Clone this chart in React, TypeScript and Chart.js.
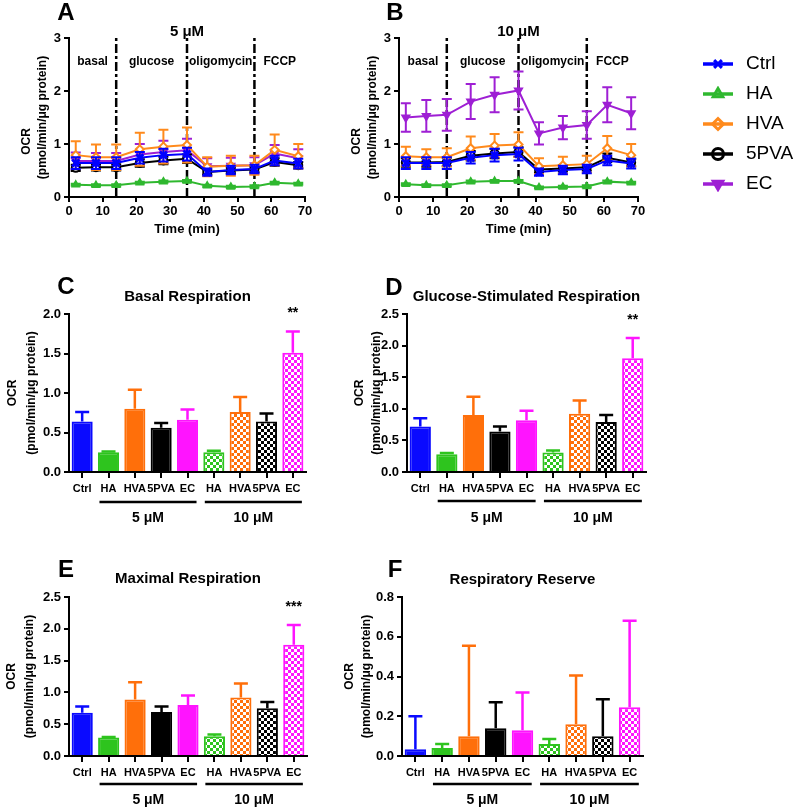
import React, { useEffect, useRef } from 'react';
import { Chart, registerables } from 'chart.js';
import { drawPoint } from 'chart.js/helpers';

Chart.register(...registerables);

const FONT = "'Liberation Sans', Arial, Helvetica, sans-serif";

// ---------- Time course data (panels A and B) ----------
const timePoints = [2, 8, 14, 21, 28, 35, 41, 48, 55, 61, 68];
const phaseBounds = [14, 35, 55];
const phaseNames = ['basal', 'glucose', 'oligomycin', 'FCCP'];
const seriesNames = ['Ctrl', 'HA', 'HVA', '5PVA', 'EC'];

const ctrlOCR = [0.64, 0.64, 0.64, 0.74, 0.79, 0.81, 0.47, 0.51, 0.53, 0.69, 0.63];
const ctrlErr = [0.11, 0.11, 0.11, 0.11, 0.12, 0.12, 0.07, 0.08, 0.08, 0.09, 0.09];

const ha5OCR = [0.23, 0.22, 0.22, 0.27, 0.29, 0.30, 0.21, 0.19, 0.20, 0.27, 0.25];
const ha5Err = [0.02, 0.02, 0.02, 0.02, 0.02, 0.02, 0.02, 0.02, 0.02, 0.02, 0.02];
const hva5OCR = [0.79, 0.75, 0.75, 0.90, 0.95, 0.98, 0.57, 0.59, 0.60, 0.89, 0.77];
const hva5Err = [0.26, 0.24, 0.24, 0.31, 0.32, 0.33, 0.18, 0.19, 0.18, 0.29, 0.23];
const pva5OCR = [0.55, 0.56, 0.56, 0.64, 0.69, 0.72, 0.47, 0.50, 0.52, 0.66, 0.60];
const pva5Err = [0.06, 0.06, 0.06, 0.07, 0.07, 0.08, 0.05, 0.05, 0.05, 0.07, 0.06];
const ec5OCR = [0.68, 0.68, 0.68, 0.80, 0.85, 0.88, 0.58, 0.59, 0.60, 0.82, 0.73];
const ec5Err = [0.16, 0.15, 0.15, 0.20, 0.21, 0.22, 0.15, 0.15, 0.15, 0.16, 0.17];

const ha10OCR = [0.24, 0.22, 0.22, 0.29, 0.30, 0.30, 0.18, 0.19, 0.20, 0.29, 0.27];
const ha10Err = [0.02, 0.02, 0.02, 0.02, 0.02, 0.02, 0.02, 0.02, 0.02, 0.02, 0.02];
const hva10OCR = [0.77, 0.75, 0.75, 0.92, 0.97, 0.99, 0.58, 0.60, 0.62, 0.92, 0.79];
const hva10Err = [0.18, 0.15, 0.17, 0.22, 0.22, 0.23, 0.15, 0.16, 0.16, 0.23, 0.21];
const pva10OCR = [0.65, 0.65, 0.66, 0.78, 0.82, 0.85, 0.52, 0.54, 0.56, 0.74, 0.65];
const pva10Err = [0.08, 0.08, 0.08, 0.09, 0.09, 0.09, 0.06, 0.06, 0.06, 0.08, 0.07];
const ec10OCR = [1.50, 1.53, 1.55, 1.80, 1.93, 2.01, 1.20, 1.31, 1.36, 1.74, 1.58];
const ec10Err = [0.27, 0.30, 0.30, 0.33, 0.33, 0.36, 0.21, 0.22, 0.26, 0.33, 0.30];

// ---------- Bar data (panels C-F) ----------
const barLabels = ['Ctrl', 'HA', 'HVA', '5PVA', 'EC', 'HA', 'HVA', '5PVA', 'EC'];
const barGroups = [
  { label: '5 μM', first: 1, last: 4 },
  { label: '10 μM', first: 5, last: 8 },
];

const basalMean = [0.64, 0.25, 0.80, 0.56, 0.66, 0.25, 0.76, 0.64, 1.51];
const basalErr = [0.12, 0.01, 0.24, 0.06, 0.13, 0.02, 0.19, 0.10, 0.27];
const basalSig = ['', '', '', '', '', '', '', '', '**'];

const glucoseMean = [0.72, 0.28, 0.90, 0.64, 0.82, 0.31, 0.92, 0.79, 1.80];
const glucoseErr = [0.13, 0.02, 0.29, 0.08, 0.15, 0.03, 0.21, 0.11, 0.32];
const glucoseSig = ['', '', '', '', '', '', '', '', '**'];

const maximalMean = [0.68, 0.29, 0.89, 0.69, 0.80, 0.31, 0.92, 0.75, 1.75];
const maximalErr = [0.10, 0.01, 0.27, 0.09, 0.15, 0.03, 0.22, 0.10, 0.31];
const maximalSig = ['', '', '', '', '', '', '', '', '***'];

const reserveMean = [0.034, 0.04, 0.10, 0.14, 0.13, 0.06, 0.16, 0.10, 0.245];
const reserveErr = [0.166, 0.02, 0.455, 0.13, 0.19, 0.025, 0.245, 0.185, 0.435];
const reserveSig = ['', '', '', '', '', '', '', '', ''];

// ---------- Styles ----------
const LINE_COLORS: any = { Ctrl: '#0000ff', HA: '#2fb82f', HVA: '#ff8a1c', '5PVA': '#000000', EC: '#9e1fd4' };
const BAR_COLORS: any = { Ctrl: '#0a0aff', HA: '#2ec41e', HVA: '#ff6f0a', '5PVA': '#000000', EC: '#ff14ff' };
const MARKERS: any = {
  Ctrl: { pointStyle: 'crossRot', radius: 5, borderWidth: 3, fill: true, rotation: 0 },
  HA: { pointStyle: 'triangle', radius: 4, borderWidth: 1.5, fill: true, rotation: 0 },
  HVA: { pointStyle: 'rectRot', radius: 4, borderWidth: 2, fill: false, rotation: 0 },
  '5PVA': { pointStyle: 'circle', radius: 4, borderWidth: 2, fill: false, rotation: 0 },
  EC: { pointStyle: 'triangle', radius: 4, borderWidth: 2, fill: true, rotation: 180 },
};

function txt(ctx: any, s: string, x: number, y: number, size: number, opts: any = {}) {
  ctx.save();
  ctx.font = `${opts.weight ?? 'bold'} ${size}px ${opts.family ?? FONT}`;
  ctx.fillStyle = opts.color ?? '#000';
  ctx.textAlign = opts.align ?? 'center';
  ctx.textBaseline = 'middle';
  ctx.translate(x, y);
  if (opts.rotate) ctx.rotate(-Math.PI / 2);
  ctx.fillText(s, 0, 0);
  ctx.restore();
}

function axisStyle() {
  return {
    grid: { drawOnChartArea: false, drawTicks: true, tickLength: 5, color: '#000', lineWidth: 2 },
    border: { display: true, color: '#000', width: 2 },
  };
}

function lineDeco(p: any) {
  return {
    id: 'lineDeco',
    beforeDatasetsDraw(chart: any) {
      const { ctx, chartArea: a, scales } = chart;
      ctx.save();
      ctx.strokeStyle = '#000';
      ctx.lineWidth = 2.5;
      ctx.setLineDash([9, 3, 3, 3]);
      phaseBounds.forEach((b) => {
        const x = scales.x.getPixelForValue(b);
        ctx.beginPath();
        ctx.moveTo(x, a.bottom);
        ctx.lineTo(x, a.top);
        ctx.stroke();
      });
      ctx.restore();
    },
    beforeDatasetDraw(chart: any, args: any) {
      const ds = chart.data.datasets[args.index];
      const errs = ds.errors;
      if (!errs) return;
      const { ctx } = chart;
      const ys = chart.scales.y;
      ctx.save();
      ctx.strokeStyle = ds.borderColor;
      ctx.lineWidth = 2;
      args.meta.data.forEach((el: any, i: number) => {
        const v = ds.data[i].y;
        const e = errs[i];
        const yt = ys.getPixelForValue(v + e);
        const yb = ys.getPixelForValue(v - e);
        ctx.beginPath();
        ctx.moveTo(el.x, yt);
        ctx.lineTo(el.x, yb);
        ctx.moveTo(el.x - 5, yt);
        ctx.lineTo(el.x + 5, yt);
        ctx.moveTo(el.x - 5, yb);
        ctx.lineTo(el.x + 5, yb);
        ctx.stroke();
      });
      ctx.restore();
    },
    afterDraw(chart: any) {
      const { ctx, chartArea: a, scales } = chart;
      txt(ctx, p.letter, p.letterPos[0], p.letterPos[1], 24);
      txt(ctx, p.title, (a.left + a.right) / 2, a.top - 6, 15);
      const cy = (a.top + a.bottom) / 2;
      txt(ctx, 'OCR', a.left - 42, cy + 24, 12, { rotate: true });
      txt(ctx, '(pmol/min/μg protein)', a.left - 26, cy, 12, { rotate: true });
      const edges = [scales.x.min, ...phaseBounds, scales.x.max];
      phaseNames.forEach((n, i) => {
        const x = scales.x.getPixelForValue((edges[i] + edges[i + 1]) / 2);
        txt(ctx, n, x, scales.y.getPixelForValue(2.55), 12);
      });
    },
  };
}

function makeLineChart(canvas: HTMLCanvasElement, p: any) {
  const xH = 40;
  const datasets = p.series.map((s: any) => {
    const c = LINE_COLORS[s.name];
    const m = MARKERS[s.name];
    return {
      label: s.name,
      data: timePoints.map((t, i) => ({ x: t, y: s.values[i] })),
      errors: s.errs,
      borderColor: c,
      backgroundColor: c,
      borderWidth: 2,
      tension: 0,
      pointStyle: m.pointStyle,
      pointRadius: m.radius,
      pointBorderWidth: m.borderWidth,
      pointRotation: m.rotation,
      pointBorderColor: c,
      pointBackgroundColor: m.fill ? c : '#ffffff',
    };
  });
  return new Chart(canvas, {
    type: 'line',
    data: { datasets },
    options: {
      responsive: false,
      animation: false,
      devicePixelRatio: 1,
      events: [],
      layout: {
        autoPadding: false,
        padding: { left: 0, top: p.area.t, right: p.w - p.area.r, bottom: p.h - p.area.b - xH },
      },
      plugins: { legend: { display: false }, tooltip: { enabled: false } },
      scales: {
        x: {
          type: 'linear',
          min: 0,
          max: 70,
          afterFit: (s: any) => { s.height = xH; },
          ticks: { stepSize: 10, color: '#000', padding: 2, maxRotation: 0, font: { family: FONT, size: 13, weight: 'bold' } },
          title: { display: true, text: 'Time (min)', color: '#000', padding: 0, font: { family: FONT, size: 13, weight: 'bold' } },
          ...axisStyle(),
        },
        y: {
          min: 0,
          max: 3,
          afterFit: (s: any) => { s.width = p.area.l; },
          ticks: { stepSize: 1, color: '#000', padding: 3, font: { family: FONT, size: 13, weight: 'bold' } },
          ...axisStyle(),
        },
      },
    } as any,
    plugins: [lineDeco(p)],
  } as any);
}

function checker(ctx: any, color: string, cell = 3) {
  const c = document.createElement('canvas');
  c.width = cell * 2;
  c.height = cell * 2;
  const g = c.getContext('2d')!;
  g.fillStyle = '#ffffff';
  g.fillRect(0, 0, cell * 2, cell * 2);
  g.fillStyle = color;
  g.fillRect(0, 0, cell, cell);
  g.fillRect(cell, cell, cell, cell);
  return ctx.createPattern(c, 'repeat');
}

function barDeco(p: any) {
  return {
    id: 'barDeco',
    afterDatasetsDraw(chart: any) {
      const { ctx, scales } = chart;
      const meta = chart.getDatasetMeta(0);
      const ds = chart.data.datasets[0];
      ctx.save();
      ctx.lineWidth = 2.5;
      meta.data.forEach((el: any, i: number) => {
        const cap = scales.y.getPixelForValue(p.means[i] + p.errs[i]);
        ctx.strokeStyle = ds.borderColor[i];
        ctx.beginPath();
        ctx.moveTo(el.x, el.y);
        ctx.lineTo(el.x, cap);
        ctx.moveTo(el.x - 7, cap);
        ctx.lineTo(el.x + 7, cap);
        ctx.stroke();
        if (p.sig[i]) txt(ctx, p.sig[i], el.x, cap - 18, 14);
      });
      ctx.restore();
    },
    afterDraw(chart: any) {
      const { ctx, chartArea: a, scales } = chart;
      const meta = chart.getDatasetMeta(0);
      const bw = meta.data[0].width;
      txt(ctx, p.letter, p.letterPos[0], p.letterPos[1], 24);
      txt(ctx, p.title, (a.left + a.right) / 2, p.titleY, 15);
      const cy = (a.top + a.bottom) / 2;
      txt(ctx, 'OCR', p.yTitleX[0], cy, 12, { rotate: true });
      txt(ctx, '(pmol/min/μg protein)', p.yTitleX[1], cy, 12, { rotate: true });
      ctx.save();
      ctx.strokeStyle = '#000';
      ctx.lineWidth = 2.5;
      barGroups.forEach((g) => {
        const x1 = scales.x.getPixelForValue(g.first) - bw / 2 + 1.5;
        const x2 = scales.x.getPixelForValue(g.last) + bw / 2 - 1.5;
        const y = a.bottom + p.groupLineDy;
        ctx.beginPath();
        ctx.moveTo(x1, y);
        ctx.lineTo(x2, y);
        ctx.stroke();
        txt(ctx, g.label, (x1 + x2) / 2, a.bottom + p.groupLabelDy, 14);
      });
      ctx.restore();
    },
  };
}

function makeBarChart(canvas: HTMLCanvasElement, p: any) {
  const xH = 30;
  const ctx = canvas.getContext('2d');
  const fills = barLabels.map((k, i) => (i >= 5 ? checker(ctx, BAR_COLORS[k]) : BAR_COLORS[k]));
  const borders = barLabels.map((k) => BAR_COLORS[k]);
  return new Chart(canvas, {
    type: 'bar',
    data: {
      labels: barLabels,
      datasets: [{
        data: p.means,
        backgroundColor: fills,
        borderColor: borders,
        borderWidth: 2,
        barPercentage: 0.8,
        categoryPercentage: 1,
      }],
    },
    options: {
      responsive: false,
      animation: false,
      devicePixelRatio: 1,
      events: [],
      layout: {
        autoPadding: false,
        padding: { left: 0, top: p.area.t, right: p.w - p.area.r, bottom: p.h - p.area.b - xH },
      },
      plugins: { legend: { display: false }, tooltip: { enabled: false } },
      scales: {
        x: {
          type: 'category',
          offset: true,
          afterFit: (s: any) => { s.height = xH; },
          grid: { offset: false, drawOnChartArea: false, drawTicks: true, tickLength: 6, color: '#000', lineWidth: 2 },
          border: { display: true, color: '#000', width: 2 },
          ticks: { autoSkip: false, maxRotation: 0, minRotation: 0, padding: 4, color: '#000', font: { family: FONT, size: 11, weight: 'bold' } },
        },
        y: {
          min: 0,
          max: p.max,
          afterFit: (s: any) => { s.width = p.area.l; },
          ticks: { stepSize: p.step, color: '#000', padding: 3, font: { family: FONT, size: 13, weight: 'bold' }, callback: (v: any) => Number(v).toFixed(1) },
          ...axisStyle(),
        },
      },
    } as any,
    plugins: [barDeco(p)],
  } as any);
}

function legendImage(name: string) {
  const c = document.createElement('canvas');
  c.width = 30;
  c.height = 16;
  const g = c.getContext('2d')!;
  const col = LINE_COLORS[name];
  const m = MARKERS[name];
  g.strokeStyle = col;
  g.lineWidth = 3.5;
  g.beginPath();
  g.moveTo(0, 8);
  g.lineTo(30, 8);
  g.stroke();
  g.lineWidth = 3;
  g.fillStyle = name === 'EC' ? col : 'rgba(0,0,0,0)';
  drawPoint(g as any, { pointStyle: m.pointStyle, radius: 5.5, rotation: m.rotation, borderWidth: 3 } as any, 15, 8);
  return c;
}

function legendDeco(imgs: HTMLCanvasElement[]) {
  return {
    id: 'legendDeco',
    afterDraw(chart: any) {
      const { ctx } = chart;
      chart.data.datasets.forEach((ds: any, i: number) => {
        const y = 20 + i * 30;
        ctx.drawImage(imgs[i], 13, y - 8);
        txt(ctx, ds.label, 56, y, 19, { weight: 'normal', align: 'left' });
      });
    },
  };
}

function makeLegend(canvas: HTMLCanvasElement) {
  const imgs = seriesNames.map(legendImage);
  return new Chart(canvas, {
    type: 'line',
    data: { datasets: seriesNames.map((n) => ({ label: n, data: [] })) },
    options: {
      responsive: false,
      animation: false,
      devicePixelRatio: 1,
      events: [],
      layout: { autoPadding: false, padding: 0 },
      scales: { x: { display: false }, y: { display: false } },
      plugins: { tooltip: { enabled: false }, legend: { display: false } },
    } as any,
    plugins: [legendDeco(imgs)],
  } as any);
}

const RECTS = [
  { x: 0, y: 0, w: 330, h: 245 },    // A
  { x: 330, y: 0, w: 330, h: 245 },  // B
  { x: 690, y: 44, w: 110, h: 170 }, // legend
  { x: 0, y: 270, w: 330, h: 270 },  // C
  { x: 340, y: 270, w: 330, h: 270 },// D
  { x: 0, y: 550, w: 330, h: 259 },  // E
  { x: 340, y: 550, w: 330, h: 259 },// F
];

export default function App() {
  const refs = useRef<(HTMLCanvasElement | null)[]>([]);
  useEffect(() => {
    const c = refs.current as HTMLCanvasElement[];
    const charts: Chart[] = [];
    const lineSeries5 = [
      { name: 'Ctrl', values: ctrlOCR, errs: ctrlErr },
      { name: 'HA', values: ha5OCR, errs: ha5Err },
      { name: 'HVA', values: hva5OCR, errs: hva5Err },
      { name: '5PVA', values: pva5OCR, errs: pva5Err },
      { name: 'EC', values: ec5OCR, errs: ec5Err },
    ];
    const lineSeries10 = [
      { name: 'Ctrl', values: ctrlOCR, errs: ctrlErr },
      { name: 'HA', values: ha10OCR, errs: ha10Err },
      { name: 'HVA', values: hva10OCR, errs: hva10Err },
      { name: '5PVA', values: pva10OCR, errs: pva10Err },
      { name: 'EC', values: ec10OCR, errs: ec10Err },
    ];
    charts.push(makeLineChart(c[0], { w: 330, h: 245, area: { l: 69, t: 38, r: 305, b: 197 }, letter: 'A', letterPos: [66, 13], title: '5 μM', series: lineSeries5 }));
    charts.push(makeLineChart(c[1], { w: 330, h: 245, area: { l: 69, t: 38, r: 308, b: 197 }, letter: 'B', letterPos: [65, 13], title: '10 μM', series: lineSeries10 }));
    charts.push(makeLegend(c[2]));
    charts.push(makeBarChart(c[3], { w: 330, h: 270, area: { l: 69, t: 44, r: 306, b: 202 }, max: 2.0, step: 0.5, means: basalMean, errs: basalErr, sig: basalSig, letter: 'C', letterPos: [66, 17], title: 'Basal Respiration', titleY: 27, yTitleX: [13, 32], groupLineDy: 30, groupLabelDy: 46 }));
    charts.push(makeBarChart(c[4], { w: 330, h: 270, area: { l: 67, t: 44, r: 306, b: 202 }, max: 2.5, step: 0.5, means: glucoseMean, errs: glucoseErr, sig: glucoseSig, letter: 'D', letterPos: [54, 18], title: 'Glucose-Stimulated Respiration', titleY: 27, yTitleX: [20, 37], groupLineDy: 29, groupLabelDy: 46 }));
    charts.push(makeBarChart(c[5], { w: 330, h: 259, area: { l: 69, t: 47, r: 307, b: 206 }, max: 2.5, step: 0.5, means: maximalMean, errs: maximalErr, sig: maximalSig, letter: 'E', letterPos: [66, 20], title: 'Maximal Respiration', titleY: 29, yTitleX: [12, 30], groupLineDy: 28, groupLabelDy: 44 }));
    charts.push(makeBarChart(c[6], { w: 330, h: 259, area: { l: 62, t: 47, r: 303, b: 206 }, max: 0.8, step: 0.2, means: reserveMean, errs: reserveErr, sig: reserveSig, letter: 'F', letterPos: [55, 20], title: 'Respiratory Reserve', titleY: 30, yTitleX: [10, 27], groupLineDy: 28, groupLabelDy: 44 }));
    return () => charts.forEach((ch) => ch.destroy());
  }, []);
  return (
    <div style={{ position: 'absolute', left: 0, top: 0, width: 800, height: 809, background: '#ffffff', overflow: 'hidden' }}>
      {RECTS.map((r, i) => (
        <canvas
          key={i}
          ref={(el) => { refs.current[i] = el; }}
          width={r.w}
          height={r.h}
          style={{ position: 'absolute', left: r.x, top: r.y, width: r.w, height: r.h }}
        />
      ))}
    </div>
  );
}
